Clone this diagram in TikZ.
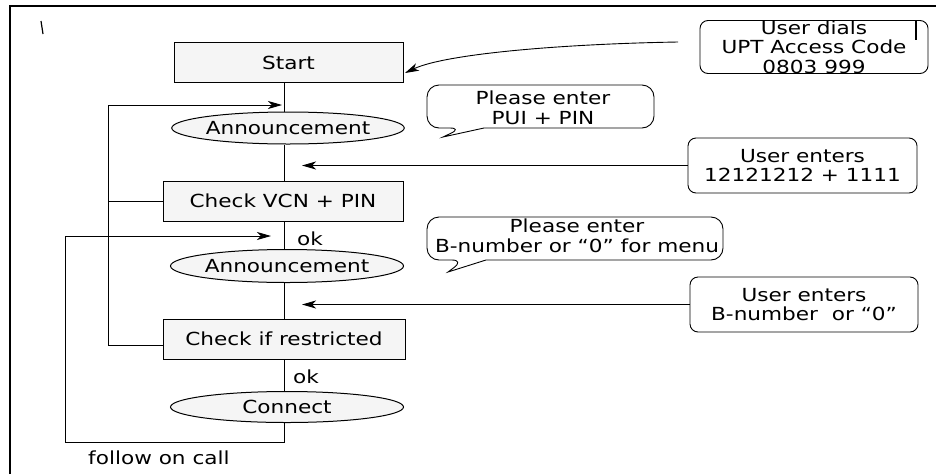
\documentclass[tikz,border=0pt]{standalone}
\usepackage{fontspec}
\setmainfont{DejaVu Sans}[FakeStretch=1.2]
\usetikzlibrary{shapes.geometric,arrows.meta}
\begin{document}
\begin{tikzpicture}[x=1pt,y=-1pt,
  every node/.style={font=\fontsize{18}{19.5}\selectfont, inner sep=0pt},
  line/.style={line width=0.9pt, draw=black},
  arr/.style={line, -{Stealth[length=14pt,width=8pt,inset=4pt]}},
  procbox/.style={draw, line width=1pt, fill=gray!8, minimum height=40pt},
  ovalbox/.style={ellipse, draw, line width=1pt, fill=gray!8},
  userbox/.style={draw, line width=0.9pt, rounded corners=8pt, align=center},
  callout/.style={line width=0.9pt, draw=black, fill=white},
  plain/.style={align=center}]
\useasboundingbox (0,0) rectangle (941,474);
\fill[white] (0,0) rectangle (941,474);
% frame
\draw[line width=1.4pt] (10,474) -- (10,6) -- (936,6);
\draw[line width=1.2pt] (41,21) -- (43,34);
\draw[line width=1.2pt] (916,20) -- (916,40);

% main flow
\node[procbox, minimum width=229pt] (start) at (288.5,62.5) {Start};
\node[ovalbox, minimum width=230pt, minimum height=32pt] (ann1) at (288,128) {Announcement};
\node[procbox, minimum width=240pt] (vcn) at (283,201) {Check VCN + PIN};
\node[ovalbox, minimum width=233pt, minimum height=33pt] (ann2) at (287,266) {Announcement};
\node[procbox, minimum width=242pt] (restr) at (284,339) {Check if restricted};
\node[ovalbox, minimum width=233pt, minimum height=31pt] (conn) at (287,407) {Connect};

\coordinate (sp) at (284,0);
\draw[line] (start.south -| sp) -- (ann1.north -| sp);
\draw[line] (ann1.south -| sp) -- (vcn.north -| sp);
\draw[line] (vcn.south -| sp) -- (ann2.north -| sp);
\draw[line] (ann2.south -| sp) -- (restr.north -| sp);
\draw[line] (restr.south -| sp) -- (conn.north -| sp);

\node[anchor=west] (ok1) at (297,239) {ok};
\node[anchor=west] (ok2) at (293,377) {ok};
\node[anchor=west] (fol) at (88,458) {follow on call};

% loop 1
\coordinate (l1t) at (108,105);
\coordinate (l1a) at (282,105);
\coordinate (l1b) at (108,345);
\coordinate (rl) at (163,345);
\draw[arr] (rl) -- (l1b) -- (l1t) -- (l1a);
\draw[line] (vcn.west) -- (vcn.west -| l1t);

% loop 2
\coordinate (l2a) at (284,442);
\coordinate (l2b) at (65,442);
\coordinate (l2c) at (65,236);
\coordinate (l2d) at (271,236);
\draw[arr] (conn.south -| sp) -- (l2a) -- (l2b) -- (l2c) -- (l2d);

% user boxes
\node[userbox, minimum width=228pt, minimum height=53pt] (dial) at (814,47) {User dials\\UPT Access Code\\0803 999};
\node[userbox, minimum width=229pt, minimum height=55pt] (ue1) at (802.5,165.5) {User enters\\12121212 + 1111};
\node[userbox, minimum width=228pt, minimum height=55pt] (ue2) at (804,304.5) {User enters\\B-number~~or “0”};

\coordinate (d0) at (678,42);
\coordinate (d1) at (405,73);
\draw[arr] (d0) .. controls (560,44) and (445,54) .. (d1);
\coordinate (e1) at (302,163);
\draw[arr] (ue1.west) -- (e1 |- ue1.west);
\coordinate (e2) at (302,307);
\draw[arr] (ue2.west) -- (e2 |- ue2.west);

% callouts
\draw[callout] (462,128) [sharp corners] -- (443,137) -- (484,128) [rounded corners=12pt] -- (654,128) -- (654,85) -- (427,85) -- (427,128) -- cycle;
\node[plain] (c1) at (543,108) {Please enter\\PUI + PIN};
\draw[callout] (464,260) [sharp corners] -- (448,272) -- (486,260) [rounded corners=12pt] -- (723,260) -- (723,217) -- (427,217) -- (427,260) -- cycle;
\node[plain] (c2) at (577,236) {Please enter\\B-number or “0” for menu};
\end{tikzpicture}
\end{document}
